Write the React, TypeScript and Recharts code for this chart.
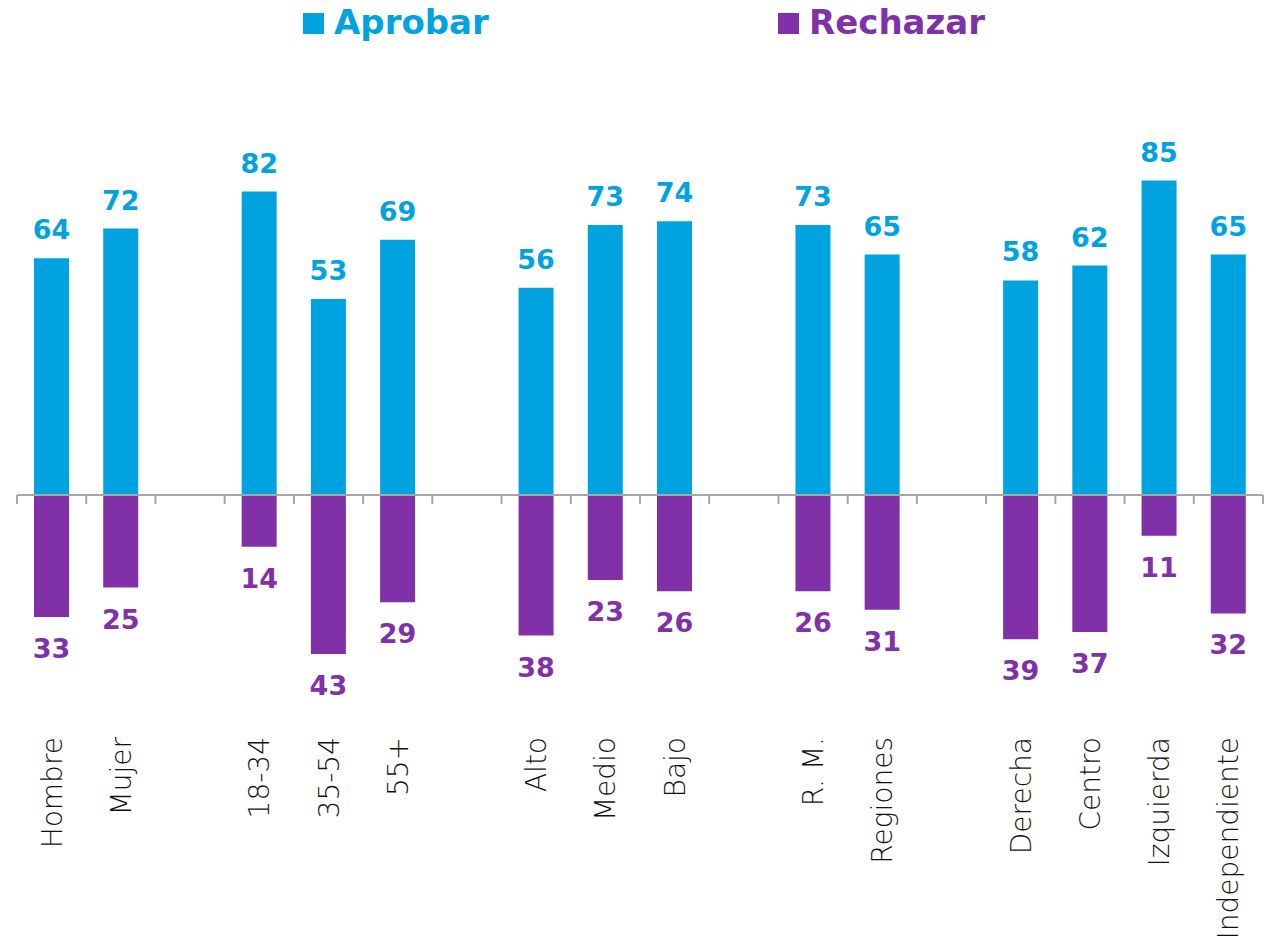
import React from 'react';
import { BarChart, Bar, XAxis, YAxis, ReferenceLine, LabelList, Legend } from 'recharts';

const categories = ['Hombre', 'Mujer', '', '18-34', '35-54', '55+', '', 'Alto', 'Medio', 'Bajo', '', 'R. M.', 'Regiones', '', 'Derecha', 'Centro', 'Izquierda', 'Independiente'];
const aprobar = [64, 72, null, 82, 53, 69, null, 56, 73, 74, null, 73, 65, null, 58, 62, 85, 65];
const rechazar = [33, 25, null, 14, 43, 29, null, 38, 23, 26, null, 26, 31, null, 39, 37, 11, 32];

const BLUE = '#00A3E0';
const PURPLE = '#8031A7';
const AXIS = '#A6A6A6';
const FONT = '"DejaVu Sans", sans-serif';

// gap columns get a unique key so the category axis keeps them apart
const data = categories.map((name, i) => ({
  key: name || `gap${i}`,
  name,
  aprobar: aprobar[i],
  rechazar: rechazar[i] == null ? null : -(rechazar[i] as number),
}));

const CategoryTick = (props: any) => {
  const { x, y, payload } = props;
  const row = data.find(d => d.key === payload.value);
  if (!row || !row.name) return null;
  return (
    <text x={x} y={y} transform={`rotate(-90, ${x}, ${y})`} textAnchor="end" dy="0.36em"
      fontFamily={FONT} fontWeight={300} fontSize={28} fill="#111">
      {row.name}
    </text>
  );
};

// zero line with small ticks on the category boundaries
const ZeroAxis = (props: any) => {
  const { x1, x2, y1 } = props;
  const n = categories.length;
  const step = (x2 - x1) / n;
  return (
    <g>
      <line x1={x1} x2={x2} y1={y1} y2={y1} stroke={AXIS} strokeWidth={2} />
      {Array.from({ length: n + 1 }, (_, i) => (
        <line key={i} x1={x1 + i * step} x2={x1 + i * step} y1={y1} y2={y1 + 9} stroke={AXIS} strokeWidth={2} />
      ))}
    </g>
  );
};

const makeLabel = (color: string, above: boolean) => (props: any) => {
  const { x, y, width, height, value } = props;
  const v = Array.isArray(value) ? value[1] - value[0] : value;
  if (v == null || v === 0 || isNaN(v)) return null;
  const top = Math.min(y, y + height);
  const bottom = Math.max(y, y + height);
  return (
    <text x={x + width / 2} y={above ? top - 19 : bottom + 41} textAnchor="middle"
      fill={color} fontFamily={FONT} fontWeight="bold" fontSize={27}>
      {Math.abs(v)}
    </text>
  );
};

const LEGEND_X = [303, 778];

const LegendContent = (props: any) => {
  const items = props.payload || [];
  return (
    <svg width={1273} height={50} style={{ display: 'block' }}>
      {items.map((item: any, i: number) => (
        <g key={item.value}>
          <rect x={LEGEND_X[i]} y={13} width={21} height={21} fill={item.color} />
          <text x={LEGEND_X[i] + 31} y={34} fill={item.color} fontFamily={FONT} fontWeight="bold" fontSize={34}>
            {item.value}
          </text>
        </g>
      ))}
    </svg>
  );
};

export default function App() {
  return (
    <div style={{ position: 'absolute', left: 0, top: 0, width: 1273, height: 946, background: '#fff' }}>
      <BarChart width={1273} height={946} data={data} stackOffset="sign"
        margin={{ top: 125, right: 10, bottom: 0, left: 17 }}>
        <XAxis dataKey="key" height={229} axisLine={false} tickLine={false} tickSize={0} tickMargin={20}
          interval={0} tick={<CategoryTick />} />
        <YAxis hide domain={[-60, 100]} />
        <Legend verticalAlign="middle" align="center" layout="horizontal" content={<LegendContent />}
          wrapperStyle={{ top: 0, left: 0, width: 1273, height: 50 }} />
        <Bar dataKey="aprobar" name="Aprobar" stackId="a" fill={BLUE} barSize={35} isAnimationActive={false}>
          <LabelList content={makeLabel(BLUE, true)} />
        </Bar>
        <Bar dataKey="rechazar" name="Rechazar" stackId="a" fill={PURPLE} barSize={35} isAnimationActive={false}>
          <LabelList content={makeLabel(PURPLE, false)} />
        </Bar>
        <ReferenceLine y={0} shape={<ZeroAxis />} />
      </BarChart>
    </div>
  );
}
